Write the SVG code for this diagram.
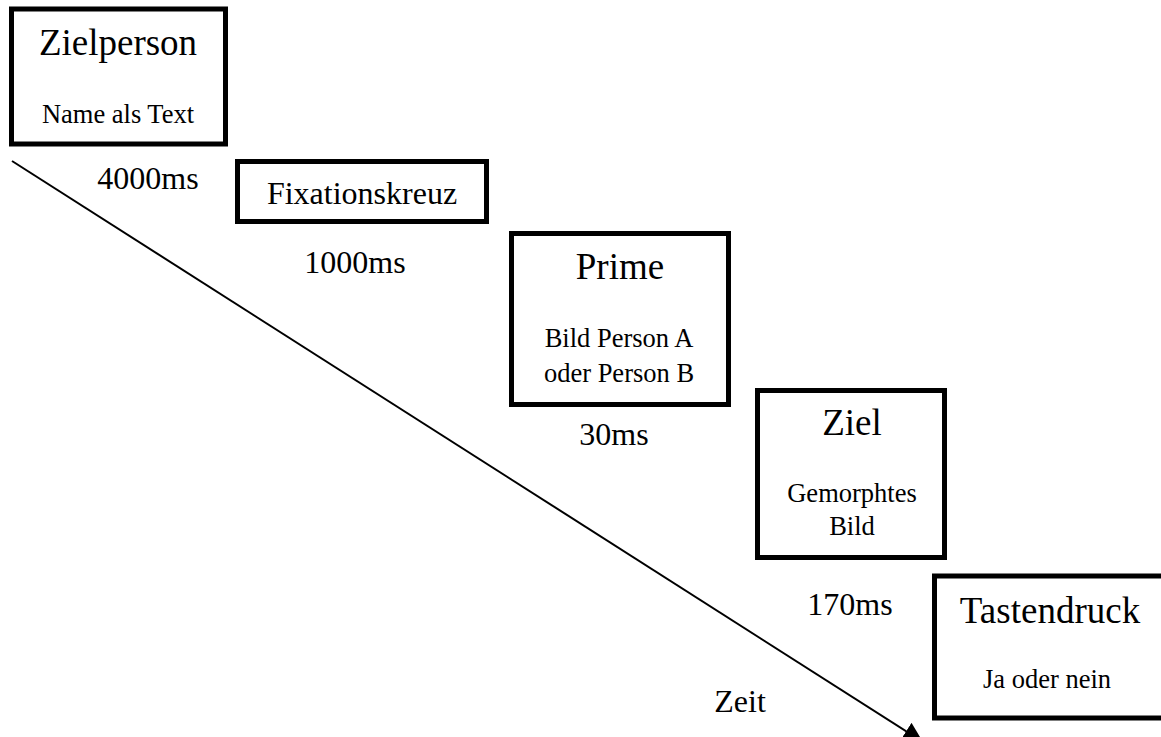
<svg xmlns="http://www.w3.org/2000/svg" width="1161" height="737" viewBox="0 0 1161 737">
<style>
.box{fill:#fff;stroke:#000;stroke-width:5}
text{font-family:"Liberation Serif","Times New Roman",serif;fill:#000;text-anchor:middle}
.t{font-size:37px}
.s{font-size:26.5px}
.d{font-size:32px}
.conn{stroke:#000;stroke-width:2;fill:none}
</style>
<defs>
<marker id="ah" markerUnits="userSpaceOnUse" markerWidth="22" markerHeight="22" refX="20" refY="10" orient="auto">
<path d="M0,0 L20,10 L0,20 z" fill="#000"/>
</marker>
</defs>
<g id="connectors">
<line class="conn" x1="12" y1="161" x2="923" y2="742" marker-end="url(#ah)"/>
</g>
<g id="zielperson">
<rect class="box" x="11.5" y="9" width="214" height="135"/>
<text class="t" x="118" y="55">Zielperson</text>
<text class="s" x="118" y="123">Name als Text</text>
</g>
<g id="fixationskreuz">
<rect class="box" x="237.5" y="161.5" width="249" height="60"/>
<text class="d" x="362" y="204">Fixationskreuz</text>
</g>
<g id="prime">
<rect class="box" x="511.5" y="233.5" width="217" height="171"/>
<text class="t" x="620" y="279">Prime</text>
<text class="s" x="619" y="347">Bild Person A</text>
<text class="s" x="619" y="382">oder Person B</text>
</g>
<g id="ziel">
<rect class="box" x="757.5" y="390.5" width="187" height="167"/>
<text class="t" x="852" y="435">Ziel</text>
<text class="s" x="852" y="502">Gemorphtes</text>
<text class="s" x="852" y="535">Bild</text>
</g>
<g id="tastendruck">
<rect class="box" x="934.5" y="576" width="240" height="142"/>
<text class="t" x="1050" y="623">Tastendruck</text>
<text class="s" x="1047" y="688">Ja oder nein</text>
</g>
<g id="labels">
<text class="d" x="148" y="189">4000ms</text>
<text class="d" x="355" y="273">1000ms</text>
<text class="d" x="614" y="445">30ms</text>
<text class="d" x="850" y="615">170ms</text>
<text class="d" x="740" y="712">Zeit</text>
</g>
</svg>
